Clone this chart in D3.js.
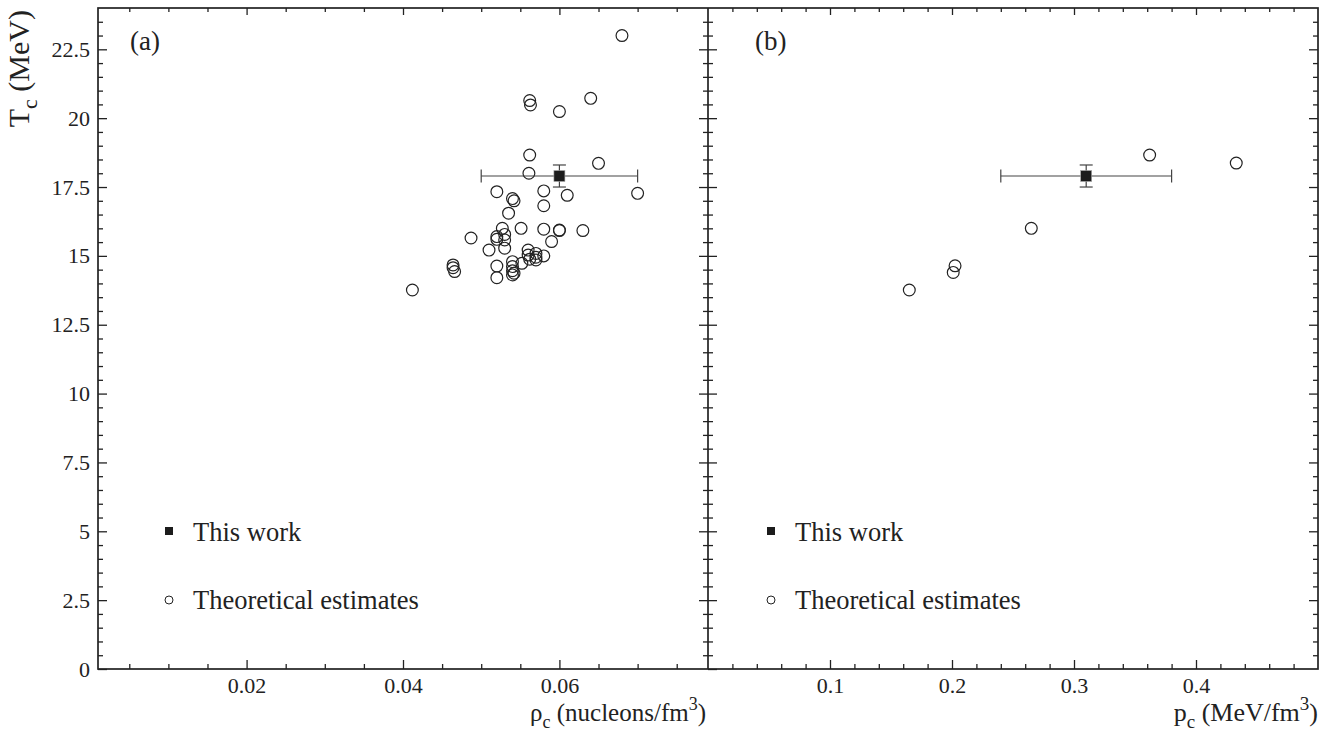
<!DOCTYPE html>
<html>
<head>
<meta charset="utf-8">
<script src="https://cdn.jsdelivr.net/npm/d3@7"></script>
<style>
  html, body { margin: 0; padding: 0; background: #fff; }
  svg { display: block; }
  text { font-family: "Liberation Serif", "DejaVu Serif", serif; fill: #222; }
</style>
</head>
<body>
<svg id="chart" width="1329" height="733"></svg>
<script>
// ---------- data ----------
// Panel (a): theoretical estimates, critical density (nucleons/fm^3) and Tc (MeV)
const rhoTheory = [0.068, 0.0562, 0.0563, 0.064, 0.060, 0.0562, 0.065, 0.0561, 0.052, 0.058,
  0.061, 0.070, 0.054, 0.0542, 0.058, 0.0535, 0.0527, 0.0551, 0.058, 0.060,
  0.060, 0.063, 0.0487, 0.052, 0.052, 0.053, 0.053, 0.053, 0.051, 0.059,
  0.056, 0.056, 0.057, 0.057, 0.058, 0.0562, 0.057, 0.054, 0.054, 0.054,
  0.0542, 0.0552, 0.052, 0.0464, 0.0464, 0.0466, 0.052, 0.054, 0.0412];
const tempTheoryA = [23.0, 20.64, 20.48, 20.72, 20.24, 18.66, 18.36, 18.0, 17.33, 17.36,
  17.2, 17.27, 17.08, 17.0, 16.82, 16.55, 16.0, 16.0, 15.97, 15.94,
  15.92, 15.92, 15.65, 15.7, 15.6, 15.78, 15.58, 15.28, 15.21, 15.52,
  15.21, 15.03, 15.09, 14.95, 15.0, 14.88, 14.85, 14.79, 14.61, 14.46,
  14.37, 14.73, 14.63, 14.67, 14.57, 14.43, 14.21, 14.31, 13.76];
// Panel (b): theoretical estimates, critical pressure (MeV/fm^3) and Tc (MeV)
const pressTheory = [0.165, 0.201, 0.2025, 0.265, 0.362, 0.433];
const tempTheoryB = [13.76, 14.4, 14.64, 16.0, 18.66, 18.37];
// This work
const thisRho = [0.06], thisRhoErr = [0.01];
const thisPress = [0.31], thisPressErr = [0.07];
const thisTemp = [17.9], thisTempErr = [0.4];
// tick values
const yMajorTicks = [0, 2.5, 5, 7.5, 10, 12.5, 15, 17.5, 20, 22.5];
const yTickLabels = ["0", "2.5", "5", "7.5", "10", "12.5", "15", "17.5", "20", "22.5"];
const rhoMajorTicks = [0.02, 0.04, 0.06];
const rhoTickLabels = ["0.02", "0.04", "0.06"];
const pressMajorTicks = [0.1, 0.2, 0.3, 0.4];
const pressTickLabels = ["0.1", "0.2", "0.3", "0.4"];
const legendLabels = ["This work", "Theoretical estimates"];

// ---------- layout ----------
const svg = d3.select("#chart");
const yTop = 8, yBot = 669;
const ax0 = 98, ax1 = 708, bx0 = 708, bx1 = 1318;
const ink = "#222";

const y = d3.scaleLinear().domain([0, 24]).range([yBot, yTop]);
const xa = d3.scaleLinear().domain([0.001, 0.079]).range([ax0, ax1]);
const xb = d3.scaleLinear().domain([0, 0.5]).range([bx0, bx1]);

const yMinor = d3.range(0, 24.001, 0.5).map(v => +v.toFixed(2)).filter(v => v > 0 && v < 24 && !yMajorTicks.includes(v));
const rhoMinor = d3.range(0.005, 0.079, 0.005).map(v => +v.toFixed(3)).filter(v => !rhoMajorTicks.includes(v));
const pressMinor = d3.range(0.02, 0.5, 0.02).map(v => +v.toFixed(2)).filter(v => !pressMajorTicks.map(t => +t.toFixed(2)).includes(v));

function styleAxis(g) {
  g.select(".domain").remove();
  g.selectAll("line").attr("stroke", ink).attr("stroke-width", 1.3);
  g.selectAll("text").attr("fill", ink).style("font-family", '"Liberation Serif", serif').style("font-size", "22px");
}

function drawPanel(x, x0, x1, xMajor, xLabels, xMinor, showYLabels) {
  const gl = svg.append("g").attr("transform", `translate(${x0},0)`);
  gl.call(d3.axisLeft(y).tickValues(yMinor).tickSize(-5).tickFormat("")).call(styleAxis);
  const glm = svg.append("g").attr("transform", `translate(${x0},0)`);
  glm.call(d3.axisLeft(y).tickValues(yMajorTicks).tickSize(-9).tickPadding(8)
    .tickFormat((d, i) => showYLabels ? yTickLabels[i] : "")).call(styleAxis);
  const gr = svg.append("g").attr("transform", `translate(${x1},0)`);
  gr.call(d3.axisRight(y).tickValues(yMinor).tickSize(-5).tickFormat("")).call(styleAxis);
  const grm = svg.append("g").attr("transform", `translate(${x1},0)`);
  grm.call(d3.axisRight(y).tickValues(yMajorTicks.filter(v => v > 0)).tickSize(-9).tickFormat("")).call(styleAxis);
  const gb = svg.append("g").attr("transform", `translate(0,${yBot})`);
  gb.call(d3.axisBottom(x).tickValues(xMinor).tickSize(-5).tickFormat("")).call(styleAxis);
  const gbm = svg.append("g").attr("transform", `translate(0,${yBot})`);
  gbm.call(d3.axisBottom(x).tickValues(xMajor).tickSize(-9).tickPadding(8)
    .tickFormat((d, i) => xLabels[i])).call(styleAxis);
  const gt = svg.append("g").attr("transform", `translate(0,${yTop})`);
  gt.call(d3.axisTop(x).tickValues(xMinor).tickSize(-4).tickFormat("")).call(styleAxis);
  const gtm = svg.append("g").attr("transform", `translate(0,${yTop})`);
  gtm.call(d3.axisTop(x).tickValues(xMajor).tickSize(-7).tickFormat("")).call(styleAxis);
}

drawPanel(xa, ax0, ax1, rhoMajorTicks, rhoTickLabels, rhoMinor, true);
drawPanel(xb, bx0, bx1, pressMajorTicks, pressTickLabels, pressMinor, false);

// frames
svg.append("rect").attr("x", ax0).attr("y", yTop).attr("width", bx1 - ax0).attr("height", yBot - yTop)
  .attr("fill", "none").attr("stroke", ink).attr("stroke-width", 1.7);
svg.append("line").attr("x1", ax1).attr("x2", ax1).attr("y1", yTop).attr("y2", yBot)
  .attr("stroke", ink).attr("stroke-width", 1.7);

// ---------- marks ----------
function drawTheory(x, xs, ys) {
  svg.append("g").selectAll("circle").data(xs).join("circle")
    .attr("cx", d => x(d)).attr("cy", (d, i) => y(ys[i])).attr("r", 5.9)
    .attr("fill", "none").attr("stroke", ink).attr("stroke-width", 1.2);
}
function drawThisWork(x, xv, xe) {
  const g = svg.append("g");
  const cx = x(xv[0]), cy = y(thisTemp[0]);
  const ec = "#444";
  g.append("line").attr("x1", x(xv[0] - xe[0])).attr("x2", x(xv[0] + xe[0])).attr("y1", cy).attr("y2", cy)
    .attr("stroke", ec).attr("stroke-width", 1.2);
  [xv[0] - xe[0], xv[0] + xe[0]].forEach(v => {
    g.append("line").attr("x1", x(v)).attr("x2", x(v)).attr("y1", cy - 6.5).attr("y2", cy + 6.5)
      .attr("stroke", ec).attr("stroke-width", 1.2);
  });
  const y1 = y(thisTemp[0] + thisTempErr[0]), y2 = y(thisTemp[0] - thisTempErr[0]);
  g.append("line").attr("x1", cx).attr("x2", cx).attr("y1", y1).attr("y2", y2)
    .attr("stroke", ec).attr("stroke-width", 1.2);
  [y1, y2].forEach(v => {
    g.append("line").attr("x1", cx - 6.5).attr("x2", cx + 6.5).attr("y1", v).attr("y2", v)
      .attr("stroke", ec).attr("stroke-width", 1.2);
  });
  g.append("rect").attr("x", cx - 5.5).attr("y", cy - 5.5).attr("width", 11).attr("height", 11)
    .attr("fill", "#1c1c1c").attr("stroke", "#aaa").attr("stroke-width", 0.6);
}

drawTheory(xa, rhoTheory, tempTheoryA);
drawThisWork(xa, thisRho, thisRhoErr);
drawTheory(xb, pressTheory, tempTheoryB);
drawThisWork(xb, thisPress, thisPressErr);

// ---------- labels ----------
const fs = 26.5;
function legend(x0) {
  svg.append("rect").attr("x", x0 - 4).attr("y", 531 - 4).attr("width", 8).attr("height", 8).attr("fill", "#1c1c1c");
  svg.append("text").attr("x", x0 + 24).attr("y", 541).style("font-size", fs + "px").text(legendLabels[0]);
  svg.append("circle").attr("cx", x0).attr("cy", 600).attr("r", 4).attr("fill", "none").attr("stroke", ink).attr("stroke-width", 1);
  svg.append("text").attr("x", x0 + 24).attr("y", 609).style("font-size", fs + "px").text(legendLabels[1]);
}
legend(169);
legend(771);

svg.append("text").attr("x", 130).attr("y", 50).style("font-size", "27px").text("(a)");
svg.append("text").attr("x", 755).attr("y", 50).style("font-size", "27px").text("(b)");

const tA = svg.append("text").attr("x", 706).attr("y", 721).attr("text-anchor", "end").style("font-size", "25px");
tA.append("tspan").text("ρ");
tA.append("tspan").attr("dy", 7).style("font-size", "18px").text("c");
tA.append("tspan").attr("dy", -7).text(" (nucleons/fm");
tA.append("tspan").attr("dy", -11).style("font-size", "18px").text("3");
tA.append("tspan").attr("dy", 11).text(")");

const tB = svg.append("text").attr("x", 1318).attr("y", 721).attr("text-anchor", "end").style("font-size", "26px");
tB.append("tspan").text("p");
tB.append("tspan").attr("dy", 7).style("font-size", "19px").text("c");
tB.append("tspan").attr("dy", -7).text(" (MeV/fm");
tB.append("tspan").attr("dy", -11).style("font-size", "19px").text("3");
tB.append("tspan").attr("dy", 11).text(")");

const tY = svg.append("text").attr("transform", "translate(29,10) rotate(-90)").attr("text-anchor", "end").style("font-size", "30px");
tY.append("tspan").text("T");
tY.append("tspan").attr("dy", 8).style("font-size", "22px").text("c");
tY.append("tspan").attr("dy", -8).text(" (MeV)");
</script>
</body>
</html>
